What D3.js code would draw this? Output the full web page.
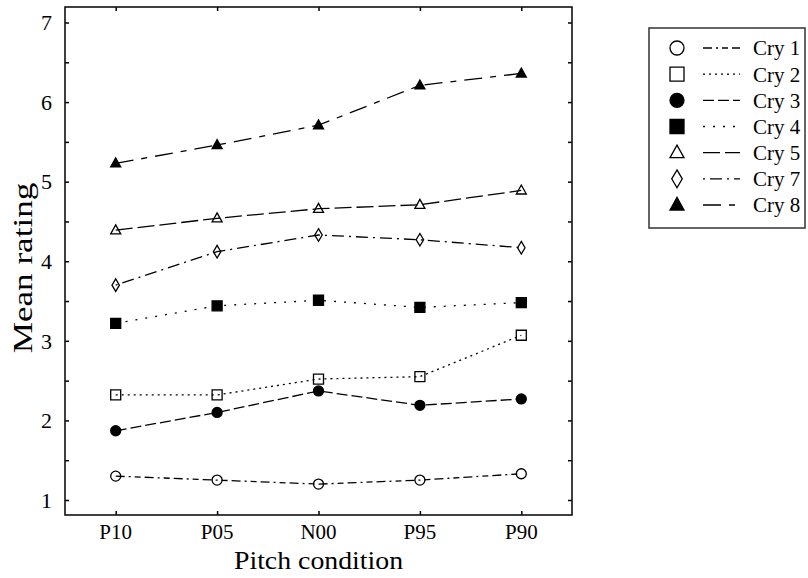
<!DOCTYPE html>
<html>
<head>
<meta charset="utf-8">
<script src="https://cdn.jsdelivr.net/npm/d3@7"></script>
<style>
  body { margin: 0; background: #fff; }
  svg { display: block; font-family: "Liberation Serif", "Times New Roman", serif; }
</style>
</head>
<body>
<svg id="chart" width="808" height="578"></svg>
<script>
const conditions = ["P10", "P05", "N00", "P95", "P90"];
const yTickLabels = [1, 2, 3, 4, 5, 6, 7];

const cry1 = [1.30, 1.25, 1.20, 1.25, 1.33];
const cry2 = [2.32, 2.32, 2.52, 2.55, 3.07];
const cry3 = [1.87, 2.10, 2.37, 2.19, 2.27];
const cry4 = [3.22, 3.44, 3.51, 3.42, 3.48];
const cry5 = [4.39, 4.54, 4.66, 4.71, 4.89];
const cry7 = [3.70, 4.12, 4.33, 4.27, 4.17];
const cry8 = [5.23, 5.46, 5.71, 6.21, 6.36];

const series = [
  { name: "Cry 1", values: cry1, marker: "circle", filled: false, dash: "9,4,2,4,6,4" },
  { name: "Cry 2", values: cry2, marker: "square", filled: false, dash: "2,4" },
  { name: "Cry 3", values: cry3, marker: "circle", filled: true, dash: "11,4" },
  { name: "Cry 4", values: cry4, marker: "square", filled: true, dash: "2,8" },
  { name: "Cry 5", values: cry5, marker: "triangle", filled: false, dash: "17,5" },
  { name: "Cry 7", values: cry7, marker: "diamond", filled: false, dash: "2,5,12,5" },
  { name: "Cry 8", values: cry8, marker: "triangle", filled: true, dash: "18,8,6,8" },
];

const frame = { left: 65, right: 572, top: 7, bottom: 515 };

const svg = d3.select("#chart");

const x = d3.scaleLinear()
  .domain([-0.5, conditions.length - 0.5])
  .range([frame.left, frame.right]);

const y = d3.scaleLinear()
  .domain([1 - 15 / 79.6, 7 + 15.5 / 79.6])
  .range([frame.bottom, frame.top]);

// minor ticks every 0.5
const yTicks = d3.range(1, 7.01, 0.5);

const g = svg.append("g");

// left axis
const leftAxis = g.append("g")
  .attr("transform", `translate(${frame.left},0)`)
  .call(d3.axisRight(y).tickValues(yTicks).tickSize(4).tickFormat(""));
leftAxis.select(".domain").remove();

g.selectAll(".ylab")
  .data(yTickLabels)
  .join("text")
  .attr("class", "ylab")
  .attr("x", frame.left - 13)
  .attr("y", (d) => y(d))
  .attr("dy", "0.35em")
  .attr("text-anchor", "end")
  .style("font-size", "22px")
  .text((d) => d);

// right axis
const rightAxis = g.append("g")
  .attr("transform", `translate(${frame.right},0)`)
  .call(d3.axisLeft(y).tickValues(yTicks).tickSize(4).tickFormat(""));
rightAxis.select(".domain").remove();

// bottom axis
const bottomAxis = g.append("g")
  .attr("transform", `translate(0,${frame.bottom})`)
  .call(d3.axisTop(x).tickValues(d3.range(conditions.length)).tickSize(4).tickFormat(""));
bottomAxis.select(".domain").remove();

g.selectAll(".xlab")
  .data(conditions)
  .join("text")
  .attr("class", "xlab")
  .attr("x", (d, i) => x(i))
  .attr("y", frame.bottom + 24)
  .attr("text-anchor", "middle")
  .style("font-size", "21px")
  .text((d) => d);

// top axis
const topAxis = g.append("g")
  .attr("transform", `translate(0,${frame.top})`)
  .call(d3.axisBottom(x).tickValues(d3.range(conditions.length)).tickSize(4).tickFormat(""));
topAxis.select(".domain").remove();

g.selectAll(".tick line").attr("stroke", "#000").attr("stroke-width", 1.5);

// frame
g.append("rect")
  .attr("x", frame.left)
  .attr("y", frame.top)
  .attr("width", frame.right - frame.left)
  .attr("height", frame.bottom - frame.top)
  .attr("fill", "none")
  .attr("stroke", "#111")
  .attr("stroke-width", 1.6);

// axis titles
svg.append("text")
  .attr("transform", `translate(32,268) rotate(-90) scale(1.3,1)`)
  .attr("text-anchor", "middle")
  .style("font-size", "27px")
  .text("Mean rating");

svg.append("text")
  .attr("transform", `translate(${(frame.left + frame.right) / 2},569) scale(1.07,1)`)
  .attr("text-anchor", "middle")
  .style("font-size", "26px")
  .text("Pitch condition");

function markerPath(type, s) {
  if (type === "circle") return d3.symbol(d3.symbolCircle, s * s * Math.PI / 4)();
  if (type === "square") return d3.symbol(d3.symbolSquare, s * s)();
  if (type === "triangle") {
    const h = s * 0.9;
    return `M0,${-h * 0.6}L${s / 2},${h * 0.4}L${-s / 2},${h * 0.4}Z`;
  }
  if (type === "diamond") {
    const w = s * 0.62, h = s * 1.05;
    return `M0,${-h / 2}L${w / 2},0L0,${h / 2}L${-w / 2},0Z`;
  }
}

const line = d3.line()
  .x((d, i) => x(i))
  .y((d) => y(d));

const plot = svg.append("g");

series.forEach((s) => {
  plot.append("path")
    .datum(s.values)
    .attr("fill", "none")
    .attr("stroke", "#000")
    .attr("stroke-width", 1.3)
    .attr("stroke-dasharray", s.dash)
    .attr("d", line);

  plot.append("g")
    .selectAll("path")
    .data(s.values)
    .join("path")
    .attr("transform", (d, i) => `translate(${x(i)},${y(d)})`)
    .attr("d", markerPath(s.marker, s.marker === "diamond" ? 12 : 10))
    .attr("fill", s.filled ? "#000" : "none")
    .attr("stroke", "#000")
    .attr("stroke-width", 1.3);
});

// legend
const legend = svg.append("g");
legend.append("rect")
  .attr("x", 649)
  .attr("y", 28)
  .attr("width", 156)
  .attr("height", 200)
  .attr("fill", "#fff")
  .attr("stroke", "#333")
  .attr("stroke-width", 1.5);

const legendY = d3.scalePoint()
  .domain(series.map((s) => s.name))
  .range([48, 205]);

const rows = legend.selectAll(".row")
  .data(series)
  .join("g")
  .attr("class", "row")
  .attr("transform", (d) => `translate(0,${legendY(d.name)})`);

rows.append("path")
  .attr("transform", "translate(677,0)")
  .attr("d", (d) => markerPath(d.marker, d.marker === "diamond" ? 17 : 14))
  .attr("fill", (d) => (d.filled ? "#000" : "#fff"))
  .attr("stroke", "#000")
  .attr("stroke-width", 1.3);

rows.append("line")
  .attr("x1", 703)
  .attr("x2", 740)
  .attr("stroke", "#000")
  .attr("stroke-width", 1.3)
  .attr("stroke-dasharray", (d) => d.dash);

rows.append("text")
  .attr("x", 753)
  .attr("dy", "0.35em")
  .style("font-size", "21px")
  .text((d) => d.name);
</script>
</body>
</html>
